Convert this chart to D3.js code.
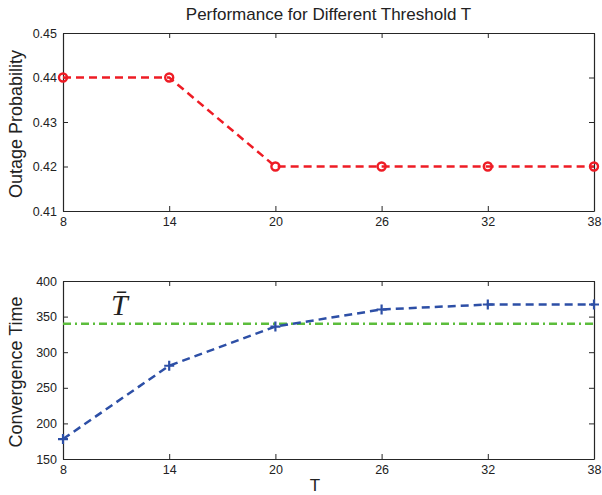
<!DOCTYPE html>
<html>
<head>
<meta charset="utf-8">
<script src="https://cdn.jsdelivr.net/npm/d3@7"></script>
<style>
  html, body { margin: 0; padding: 0; background: #fff; }
  svg { display: block; font-family: "Liberation Sans", Arial, sans-serif; }
</style>
</head>
<body>
<svg id="chart" width="602" height="495"></svg>
<script>
// Threshold values on the x axis
const thresholds = [8, 14, 20, 26, 32, 38];
// Outage probability for each threshold
const outage = [0.44, 0.44, 0.42, 0.42, 0.42, 0.42];
// Convergence time for each threshold
const convergence = [178, 281, 336, 360, 367, 367];
// Reference level T-bar
const tBar = 340;
// Tick labels
const outageTicks = [0.41, 0.42, 0.43, 0.44, 0.45];
const convTicks = [150, 200, 250, 300, 350, 400];

const svg = d3.select("#chart");
const left = 63, right = 594;
const frameColor = "#262626";
const tickFont = "12.5px";

const x = d3.scaleLinear().domain([8, 38]).range([left, right]);

function panel(top, bottom, yDomain, yTicks, yFormat, yLabel) {
  const y = d3.scaleLinear().domain(yDomain).range([bottom, top]);
  const g = svg.append("g");

  const axes = [
    d3.axisBottom(x).tickValues(thresholds).tickSizeInner(-5).tickSizeOuter(0).tickPadding(6),
    d3.axisTop(x).tickValues(thresholds).tickSizeInner(-5).tickSizeOuter(0).tickFormat(""),
    d3.axisLeft(y).tickValues(yTicks).tickSizeInner(-5).tickSizeOuter(0).tickPadding(6).tickFormat(yFormat),
    d3.axisRight(y).tickValues(yTicks).tickSizeInner(-5).tickSizeOuter(0).tickFormat("")
  ];
  const pos = [
    `translate(0,${bottom})`, `translate(0,${top})`,
    `translate(${left},0)`, `translate(${right},0)`
  ];
  axes.forEach((a, i) => {
    const ag = g.append("g").attr("transform", pos[i]).call(a);
    ag.selectAll("path").attr("stroke", frameColor).attr("stroke-width", 1.2);
    ag.selectAll("line").attr("stroke", frameColor).attr("stroke-width", 1);
    ag.selectAll("text").attr("fill", "#222").style("font-size", tickFont)
      .style("font-family", "Liberation Sans, Arial, sans-serif");
  });

  g.append("text")
    .attr("transform", `translate(22,${(top + bottom) / 2 + 2}) rotate(-90)`)
    .attr("text-anchor", "middle")
    .attr("fill", "#222")
    .style("font-size", "18px")
    .text(yLabel);

  return { g, y };
}

// Title
svg.append("text")
  .attr("x", (left + right) / 2).attr("y", 20)
  .attr("text-anchor", "middle")
  .attr("fill", "#222")
  .style("font-size", "17px")
  .text("Performance for Different Threshold T");

// Upper panel: outage probability
const p1 = panel(33, 211, [0.41, 0.45], outageTicks, d3.format(".2f"), "Outage Probability");
const line1 = d3.line().x((d, i) => x(thresholds[i])).y(d => p1.y(d));
p1.g.append("path")
  .datum(outage)
  .attr("d", line1)
  .attr("fill", "none")
  .attr("stroke", "#ee1c25")
  .attr("stroke-width", 2.5)
  .attr("stroke-dasharray", "8,5");
p1.g.selectAll("circle.mk")
  .data(outage)
  .join("circle")
  .attr("class", "mk")
  .attr("cx", (d, i) => x(thresholds[i]))
  .attr("cy", d => p1.y(d))
  .attr("r", 4)
  .attr("fill", "none")
  .attr("stroke", "#ee1c25")
  .attr("stroke-width", 2.4);

// Lower panel: convergence time
const p2 = panel(281, 459, [150, 400], convTicks, d3.format("d"), "Convergence Time");

// T-bar reference line
p2.g.append("line")
  .attr("x1", left).attr("x2", right)
  .attr("y1", p2.y(tBar)).attr("y2", p2.y(tBar))
  .attr("stroke", "#5cbd3c")
  .attr("stroke-width", 2.4)
  .attr("stroke-dasharray", "8,4,2,4");

const line2 = d3.line().x((d, i) => x(thresholds[i])).y(d => p2.y(d));
p2.g.append("path")
  .datum(convergence)
  .attr("d", line2)
  .attr("fill", "none")
  .attr("stroke", "#2d4fa6")
  .attr("stroke-width", 2.5)
  .attr("stroke-dasharray", "8,5");
p2.g.selectAll("path.mk")
  .data(convergence)
  .join("path")
  .attr("class", "mk")
  .attr("transform", (d, i) => `translate(${x(thresholds[i])},${p2.y(d)})`)
  .attr("d", "M-5,0H5M0,-5V5")
  .attr("stroke", "#2d4fa6")
  .attr("stroke-width", 2.2)
  .attr("fill", "none");

// T-bar label
p2.g.append("text")
  .attr("x", 111).attr("y", 315)
  .attr("fill", "#222")
  .style("font-family", "Liberation Serif, DejaVu Serif, serif")
  .style("font-style", "italic")
  .style("font-size", "30px")
  .text("T\u0304");

// X axis label
svg.append("text")
  .attr("x", 315).attr("y", 491)
  .attr("text-anchor", "middle")
  .attr("fill", "#222")
  .style("font-size", "17px")
  .text("T");
</script>
</body>
</html>
